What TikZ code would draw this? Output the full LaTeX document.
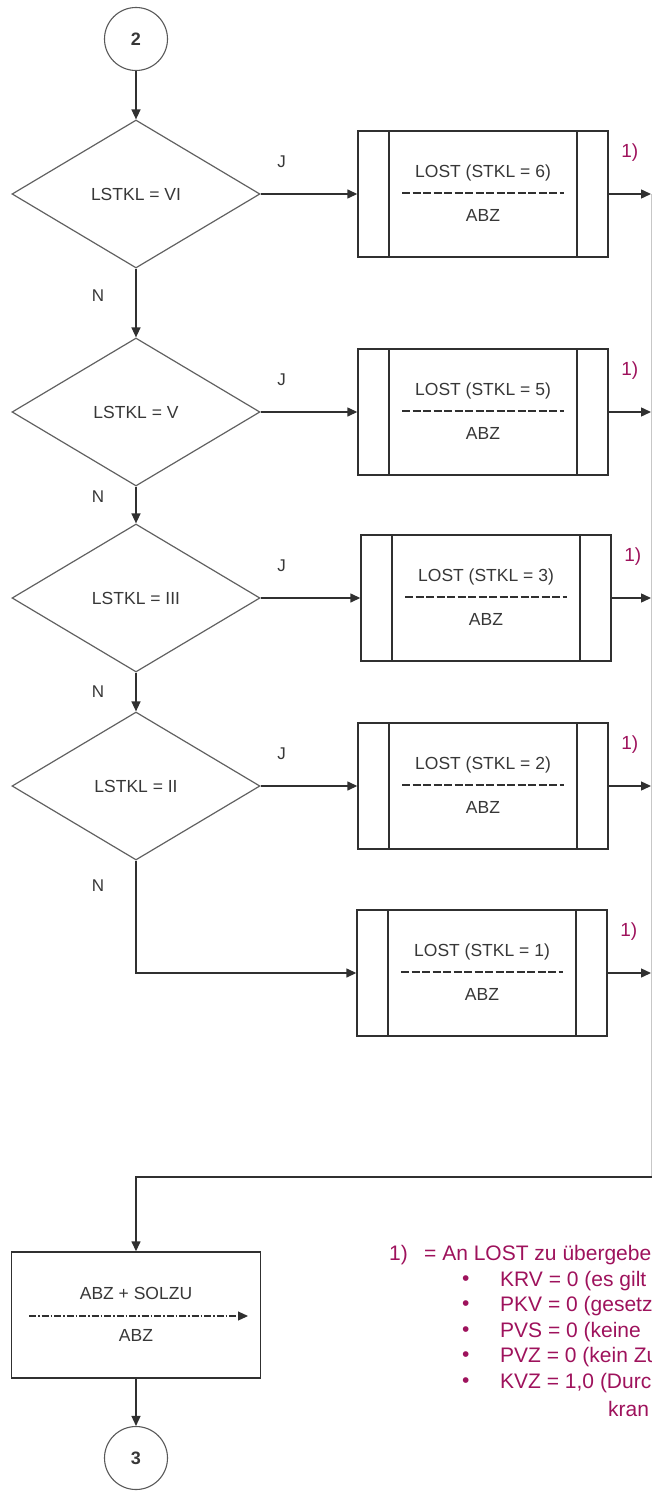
\documentclass[tikz,border=0pt]{standalone}
\usepackage{fontspec}
\setmainfont{Liberation Sans}
\usetikzlibrary{shapes.geometric,arrows.meta}
\definecolor{notecol}{RGB}{158,18,92}
\definecolor{linecol}{RGB}{48,48,48}
\definecolor{txtcol}{RGB}{55,55,55}
\def\lostbox(#1)(#2)#3{
	\node[subproc] (#1) at (#2) {};
	\node[boxtext] at ([yshift=21pt]#1.center) {LOST (STKL = #3)};
	\draw[sepline] ([xshift=-81pt,yshift=1pt]#1.center) -- ([xshift=81pt,yshift=1pt]#1.center);
	\node[boxtext] at ([yshift=-21pt]#1.center) {ABZ};
	\node[fnmark] at ([xshift=21pt,yshift=-22pt]#1.north east) {1)};
}
\tikzset{
	flow/.style={line width=1.4pt, draw=linecol, -{Triangle[length=10pt,width=9pt]}},
	rail/.style={line width=0.9pt, draw=black!22},
	connector/.style={circle, draw=black!65, line width=1.1pt, minimum size=63pt, inner sep=0pt, font=\fontsize{18}{20}\selectfont\bfseries, text=txtcol},
	decision/.style={diamond, draw=black!62, line width=1.2pt, minimum width=248pt, minimum height=148pt, inner sep=0pt, text=txtcol, font=\fontsize{17.5}{21}\selectfont},
	subproc/.style={rectangle, draw=linecol, line width=1.4pt, minimum width=250pt, minimum height=126pt, inner sep=0pt,
		path picture={\draw[line width=1.4pt, linecol] ([xshift=31pt]path picture bounding box.north west) -- ([xshift=31pt]path picture bounding box.south west) ([xshift=-31pt]path picture bounding box.north east) -- ([xshift=-31pt]path picture bounding box.south east);}},
	procbox/.style={rectangle, draw=linecol, line width=1.4pt, minimum width=249pt, minimum height=126pt, inner sep=0pt},
	boxtext/.style={text=txtcol, inner sep=0pt, font=\fontsize{17.5}{21}\selectfont},
	sepline/.style={line width=1.3pt, draw=linecol, dash pattern=on 8pt off 2.5pt},
	label/.style={text=txtcol, inner sep=0pt, font=\fontsize{17}{20}\selectfont},
	fnmark/.style={text=notecol, inner sep=0pt, font=\fontsize{19}{22}\selectfont},
	fnote/.style={text=notecol, inner sep=0pt, anchor=west, font=\fontsize{21}{25}\selectfont},
}
\begin{document}
\begin{tikzpicture}[x=1pt,y=-1pt]
		%%%%% START %%%%%
		\useasboundingbox (0,0) rectangle (652,1495);
		\clip (0,0) rectangle (652,1495);
		
		\node[connector] (c2) at (136,39) {2};
		
		\node[decision] (d1) at (136,194) {LSTKL = VI};
		\node[decision] (d2) at (136,412) {LSTKL = V};
		\node[decision] (d3) at (136,598) {LSTKL = III};
		\node[decision] (d4) at (136,786) {LSTKL = II};
		
		\lostbox(b1)(483,194){6}
		\lostbox(b2)(483,412){5}
		\lostbox(b3)(486,598){3}
		\lostbox(b4)(483,786){2}
		\lostbox(b5)(482,973){1}
		
		\foreach \d in {d1,d2,d3,d4}
			\node[label] at ([xshift=21pt,yshift=32pt]\d.east) {J};
		\node[label] at ([xshift=-38pt,yshift=-27pt]d1.south) {N};
		\node[label] at ([xshift=-38pt,yshift=-10pt]d2.south) {N};
		\node[label] at ([xshift=-38pt,yshift=-19pt]d3.south) {N};
		\node[label] at ([xshift=-38pt,yshift=-25pt]d4.south) {N};
		
		\draw[flow] (c2) -- (d1);
		\draw[flow] (d1) -- (d2);
		\draw[flow] (d2) -- (d3);
		\draw[flow] (d3) -- (d4);
		\draw[flow] (d1) -- (b1);
		\draw[flow] (d2) -- (b2);
		\draw[flow] (d3) -- (b3);
		\draw[flow] (d4) -- (b4);
		\draw[flow] (d4.south) |- (b5.west);
		
		% collector on the right edge
		\coordinate (rtop) at (651,194);
		\coordinate (rbot) at (651,1177);
		\draw[rail] (rtop) -- (rbot);
		\foreach \b in {b1,b2,b3,b4,b5}
			\draw[flow] (\b.east) -- (\b.east -| rtop);
		
		\node[procbox] (b6) at (136,1315) {};
		\node[boxtext] at ([yshift=22pt]b6.center) {ABZ + SOLZU};
		\draw[line width=1.2pt, linecol, dash pattern=on 7pt off 2pt on 1.5pt off 2pt, -{Triangle[length=10pt,width=9pt]}] ([xshift=-107pt,yshift=-1pt]b6.center) -- ([xshift=112pt,yshift=-1pt]b6.center);
		\node[boxtext] at ([yshift=-20pt]b6.center) {ABZ};
		\draw[flow] ([xshift=1pt]rbot) -| (b6.north);
		
		\node[connector] (c3) at (136,1458) {3};
		\draw[flow] (b6) -- (c3);
		
		% footnote
		\node[fnote] at (389,1255) {1)};
		\node[fnote] at (424,1255) {= An LOST zu übergebe};
		\foreach \y/\t in {1281/KRV = 0 (es gilt, 1306/PKV = 0 (gesetz, 1332/PVS = 0 (keine, 1357/PVZ = 0 (kein Zu, 1383/{KVZ = 1,0 (Durc}} {
			\node[fnote] at (462,\y) {•};
			\node[fnote] at (500,\y) {\t};
		}
		\node[fnote] at (608,1409) {kran};
		
		%%%%% END %%%%%
	\end{tikzpicture}
\end{document}
